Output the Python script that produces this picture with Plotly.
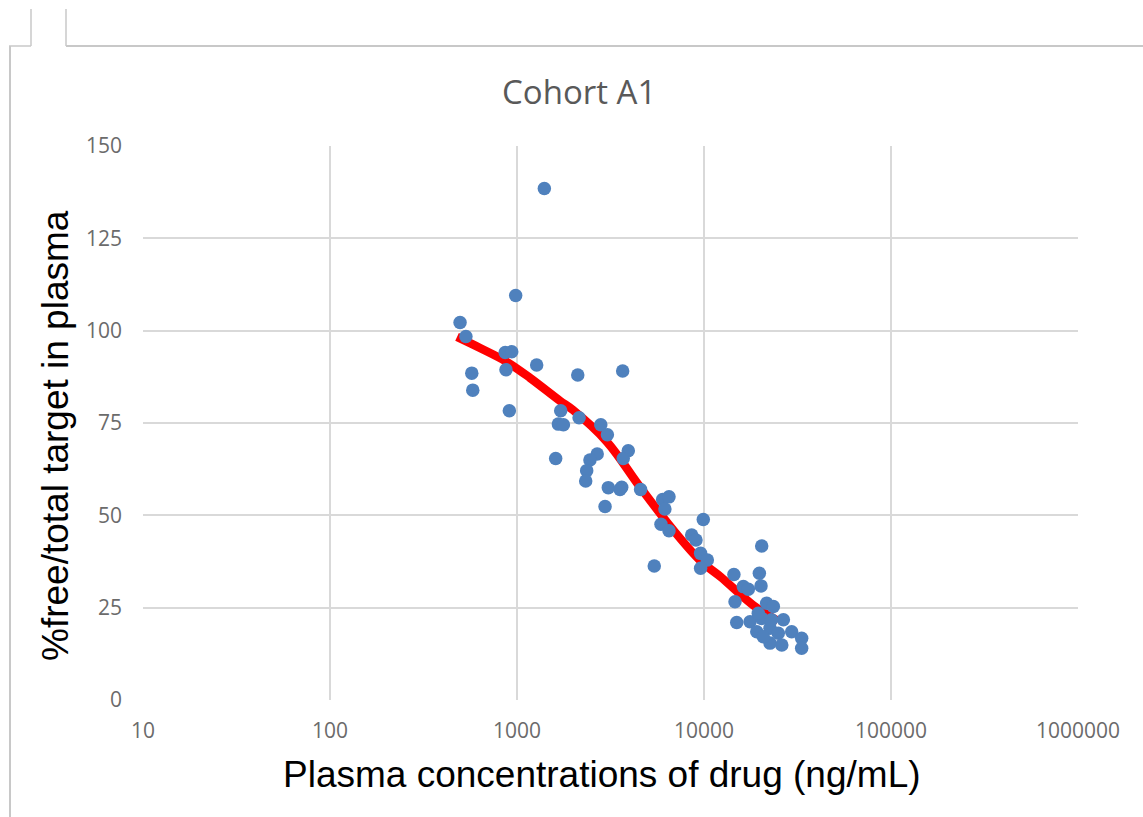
import plotly.graph_objects as go

# ---- data ----
conc = [496, 533, 573, 580, 865, 937, 873, 910, 984, 1400,
        1274, 2113, 3673, 1713, 2148, 1664, 1771, 2806, 3043, 1610,
        3936, 3700, 2685, 2455, 2358, 2330, 3078, 3630, 3556, 4582,
        2957, 6010, 6500, 6180, 5888, 6500, 5420, 8590, 9060, 9910,
        9590, 10420, 9590, 14450, 20350, 19770, 20180, 16230, 17260, 14650,
        21630, 23490, 14960, 17630, 20350, 26570, 19150, 22540, 24960, 22540,
        26060, 29440, 33280, 33280, 20750, 19510, 22960]
pct = [102.2, 98.4, 88.5, 83.9, 94.1, 94.3, 89.4, 78.3, 109.5, 138.5,
       90.7, 88.0, 89.1, 78.3, 76.4, 74.7, 74.5, 74.5, 71.8, 65.4,
       67.5, 65.4, 66.6, 65.0, 62.1, 59.3, 57.5, 57.6, 57.0, 57.0,
       52.4, 54.3, 55.0, 51.7, 47.6, 45.8, 36.3, 44.7, 43.3, 48.9,
       39.7, 37.9, 35.7, 34.0, 41.7, 34.3, 30.9, 30.7, 30.0, 26.6,
       26.2, 25.3, 21.0, 21.2, 22.1, 21.7, 18.5, 19.4, 18.1, 15.4,
       14.9, 18.5, 16.7, 14.0, 17.1, 23.5, 21.7]

fit_x = [478, 634, 885, 1175, 1698, 1993, 3027, 4546, 6828, 9610, 12300, 18290, 24880]
fit_y = [98.3, 95.3, 91.5, 87.2, 81.0, 78.5, 69.9, 57.7, 46.1, 37.6, 33.3, 25.7, 21.4]

x_ticks = [10, 100, 1000, 10000, 100000, 1000000]
x_tick_labels = ["10", "100", "1000", "10000", "100000", "1000000"]
y_ticks = [0, 25, 50, 75, 100, 125, 150]

title_text = "Cohort A1"
x_title = "Plasma concentrations of drug (ng/mL)"
y_title = "%free/total target in plasma"

# ---- figure ----
W, H = 1143, 817
L, R, T, B = 143, 65, 146, 117
PW, PH = W - L - R, H - T - B


def px(xp):
    return (xp - L) / PW


def py(yp):
    return (H - B - yp) / PH


fig = go.Figure()
fig.add_trace(go.Scatter(x=fit_x, y=fit_y, mode="lines",
                         line=dict(color="#ff0000", width=8.5, shape="spline"),
                         hoverinfo="skip", showlegend=False))
fig.add_trace(go.Scatter(x=conc, y=pct, mode="markers",
                         marker=dict(color="#4f81bd", size=13.5, line=dict(width=0)),
                         showlegend=False))

tick_font = dict(family="Open Sans", size=21, color="#6b6b6b")
grid = "#d9d9d9"

fig.update_xaxes(type="log", range=[1, 6], tickvals=x_ticks, ticktext=x_tick_labels,
                 showgrid=True, gridcolor=grid, gridwidth=2,
                 showline=False, zeroline=False, tickfont=tick_font,
                 ticks="", ticklabelstandoff=16)
fig.update_yaxes(range=[0, 150], tickvals=y_ticks,
                 showgrid=True, gridcolor=grid, gridwidth=2,
                 showline=False, zeroline=False, tickfont=tick_font,
                 ticks="", ticklabelstandoff=20)

line_col = "#c8c8c8"
shapes = [
    dict(type="line", xref="paper", yref="paper", x0=px(10), x1=px(10), y0=py(46), y1=py(830),
         line=dict(color=line_col, width=2)),
    dict(type="line", xref="paper", yref="paper", x0=px(9), x1=px(31), y0=py(46), y1=py(46),
         line=dict(color=line_col, width=1.5)),
    dict(type="line", xref="paper", yref="paper", x0=px(31), x1=px(31), y0=py(9), y1=py(46),
         line=dict(color=line_col, width=1.5)),
    dict(type="line", xref="paper", yref="paper", x0=px(66), x1=px(66), y0=py(9), y1=py(46),
         line=dict(color=line_col, width=1.5)),
    dict(type="line", xref="paper", yref="paper", x0=px(66), x1=px(1150), y0=py(46), y1=py(46),
         line=dict(color=line_col, width=2)),
]

annotations = [
    dict(text=title_text, xref="paper", yref="paper", x=px(579), y=py(92),
         xanchor="center", yanchor="middle", showarrow=False,
         font=dict(family="Open Sans", size=33, color="#595959")),
    dict(text=x_title, xref="paper", yref="paper", x=px(602), y=py(774),
         xanchor="center", yanchor="middle", showarrow=False,
         font=dict(family="Liberation Sans", size=37, color="#000000")),
    dict(text=y_title, xref="paper", yref="paper", x=px(55), y=py(436),
         xanchor="center", yanchor="middle", showarrow=False, textangle=-90,
         font=dict(family="Liberation Sans", size=37, color="#000000")),
]

fig.update_layout(width=W, height=H, margin=dict(l=L, r=R, t=T, b=B),
                  paper_bgcolor="white", plot_bgcolor="white",
                  shapes=shapes, annotations=annotations, showlegend=False)

fig.write_html("out.html")
